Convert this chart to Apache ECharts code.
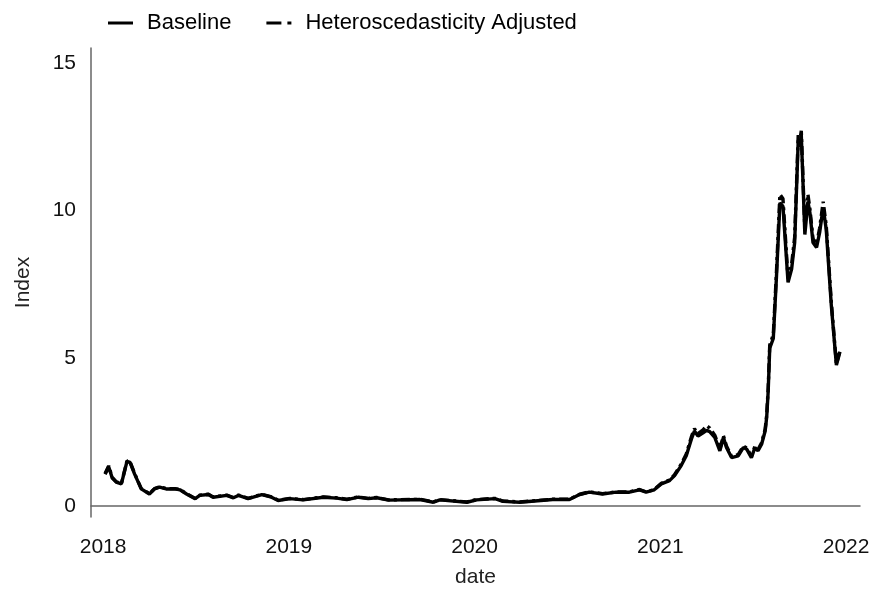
<!DOCTYPE html>
<html>
<head>
<meta charset="utf-8">
<script src="https://cdn.jsdelivr.net/npm/echarts@6/dist/echarts.min.js"></script>
<style>html,body{margin:0;padding:0;background:#fff}#c{width:875px;height:593px}</style>
</head>
<body>
<div id="c"></div>
<script>
const dates = ['2018-01-05','2018-01-12','2018-01-19','2018-01-27','2018-02-06','2018-02-17','2018-02-23','2018-03-04','2018-03-17','2018-04-02','2018-04-12','2018-04-22','2018-05-05','2018-05-22','2018-06-01','2018-06-14','2018-07-01','2018-07-10','2018-07-27','2018-08-05','2018-09-01','2018-09-14','2018-09-24','2018-10-13','2018-11-09','2018-11-28','2018-12-11','2019-01-03','2019-01-29','2019-03-10','2019-04-05','2019-04-25','2019-05-18','2019-06-06','2019-06-23','2019-07-16','2019-09-16','2019-10-12','2019-10-25','2019-12-17','2020-01-05','2020-02-10','2020-02-26','2020-03-30','2020-06-03','2020-07-06','2020-07-26','2020-08-14','2020-09-09','2020-10-06','2020-11-01','2020-11-21','2020-12-04','2020-12-20','2021-01-03','2021-01-19','2021-01-29','2021-02-11','2021-02-21','2021-03-03','2021-03-09','2021-03-16','2021-03-26','2021-04-02','2021-04-08','2021-04-18','2021-04-28','2021-05-05','2021-05-11','2021-05-21','2021-06-03','2021-06-13','2021-06-20','2021-06-29','2021-07-06','2021-07-12','2021-07-19','2021-07-26','2021-07-29','2021-08-01','2021-08-04','2021-08-11','2021-08-17','2021-08-24','2021-08-30','2021-09-09','2021-09-16','2021-09-22','2021-09-29','2021-10-02','2021-10-05','2021-10-12','2021-10-18','2021-10-22','2021-10-28','2021-11-04','2021-11-10','2021-11-17','2021-11-23','2021-12-03','2021-12-13','2021-12-20'];
const baseline = [1.08,1.33,0.95,0.81,0.75,1.51,1.48,1.08,0.58,0.41,0.58,0.64,0.58,0.58,0.55,0.41,0.25,0.36,0.39,0.30,0.36,0.28,0.36,0.25,0.39,0.30,0.19,0.25,0.21,0.30,0.27,0.22,0.30,0.25,0.28,0.20,0.22,0.13,0.21,0.13,0.21,0.25,0.16,0.13,0.22,0.22,0.39,0.47,0.41,0.47,0.47,0.55,0.47,0.55,0.75,0.86,1.03,1.37,1.70,2.26,2.54,2.37,2.48,2.56,2.52,2.32,1.87,2.32,1.98,1.64,1.70,1.98,1.92,1.64,1.98,1.87,2.09,2.54,3.00,3.90,5.34,5.67,7.68,10.26,10.14,7.57,8.02,8.92,12.38,12.16,12.55,9.19,10.30,9.92,8.92,8.75,9.25,10.10,9.36,6.79,4.77,5.22];
const adjusted = [1.10,1.36,0.97,0.82,0.76,1.53,1.50,1.10,0.59,0.42,0.59,0.65,0.59,0.59,0.56,0.42,0.26,0.37,0.40,0.31,0.37,0.29,0.37,0.26,0.40,0.31,0.20,0.26,0.22,0.31,0.28,0.23,0.31,0.26,0.29,0.21,0.23,0.14,0.22,0.14,0.22,0.26,0.17,0.14,0.23,0.23,0.40,0.48,0.42,0.48,0.48,0.56,0.48,0.56,0.77,0.88,1.06,1.42,1.76,2.34,2.62,2.45,2.58,2.72,2.64,2.40,1.93,2.38,2.03,1.68,1.74,2.03,1.96,1.68,2.03,1.91,2.14,2.60,3.08,4.00,5.45,5.80,7.85,10.55,10.40,7.70,8.18,9.10,12.55,12.35,12.70,9.35,10.55,10.05,9.05,8.85,9.40,10.30,9.50,6.90,4.80,5.28];
const yearTicks = [2018, 2019, 2020, 2021, 2022];
const indexTicks = [0, 5, 10, 15];

function toYear(s) {
  const d = new Date(s + 'T00:00:00Z');
  const y = d.getUTCFullYear();
  const start = Date.UTC(y, 0, 1), end = Date.UTC(y + 1, 0, 1);
  return y + (d.getTime() - start) / (end - start);
}
const xs = dates.map(toYear);
const font = 'Liberation Sans, Arial, sans-serif';

const chart = echarts.init(document.getElementById('c'), null, {renderer: 'canvas'});
chart.setOption({
  animation: false,
  backgroundColor: '#fff',
  grid: {left: 91, right: 15, top: 48, bottom: 73},
  legend: {
    left: 108, top: 12, padding: 0,
    itemWidth: 25, itemHeight: 3, itemGap: 35,
    textStyle: {fontFamily: font, fontSize: 22, color: '#000', padding: [0, 0, 0, 9]},
    data: [
      {name: 'Baseline', icon: 'path://M0,0H25V3H0Z'},
      {name: 'Heteroscedasticity Adjusted', icon: 'path://M0,0H15V3H0ZM21,0H25V3H21Z'}
    ],
    itemStyle: {color: '#000'}
  },
  xAxis: {
    type: 'value',
    min: 2017.935, max: 2022.075,
    name: 'date', nameLocation: 'middle', nameGap: 50,
    nameTextStyle: {fontFamily: font, fontSize: 21, color: '#222'},
    axisLine: {show: true, lineStyle: {color: '#666', width: 1.5}},
    axisTick: {show: false},
    splitLine: {show: false},
    axisLabel: {customValues: yearTicks, fontFamily: font, fontSize: 21, color: '#111', margin: 20,
      formatter: v => String(Math.round(v))}
  },
  yAxis: {
    type: 'value',
    min: -0.37, max: 15.5,
    name: 'Index', nameLocation: 'middle', nameGap: 57,
    nameTextStyle: {fontFamily: font, fontSize: 21, color: '#222'},
    axisLine: {show: true, lineStyle: {color: '#666', width: 1.5}},
    axisTick: {show: false},
    splitLine: {show: false},
    axisLabel: {customValues: indexTicks, fontFamily: font, fontSize: 21, color: '#111', margin: 15,
      padding: [4, 0, 0, 0]}
  },
  series: [
    {
      name: 'Heteroscedasticity Adjusted', type: 'line', symbol: 'none', z: 2,
      data: xs.map((x, i) => [x, adjusted[i]]),
      lineStyle: {color: '#000', width: 3.4, type: [9, 4, 3, 4]},
      itemStyle: {color: '#000'}
    },
    {
      name: 'Baseline', type: 'line', symbol: 'none', z: 3,
      data: xs.map((x, i) => [x, baseline[i]]),
      lineStyle: {color: '#000', width: 3.4},
      itemStyle: {color: '#000'}
    }
  ]
});
</script>
</body>
</html>
